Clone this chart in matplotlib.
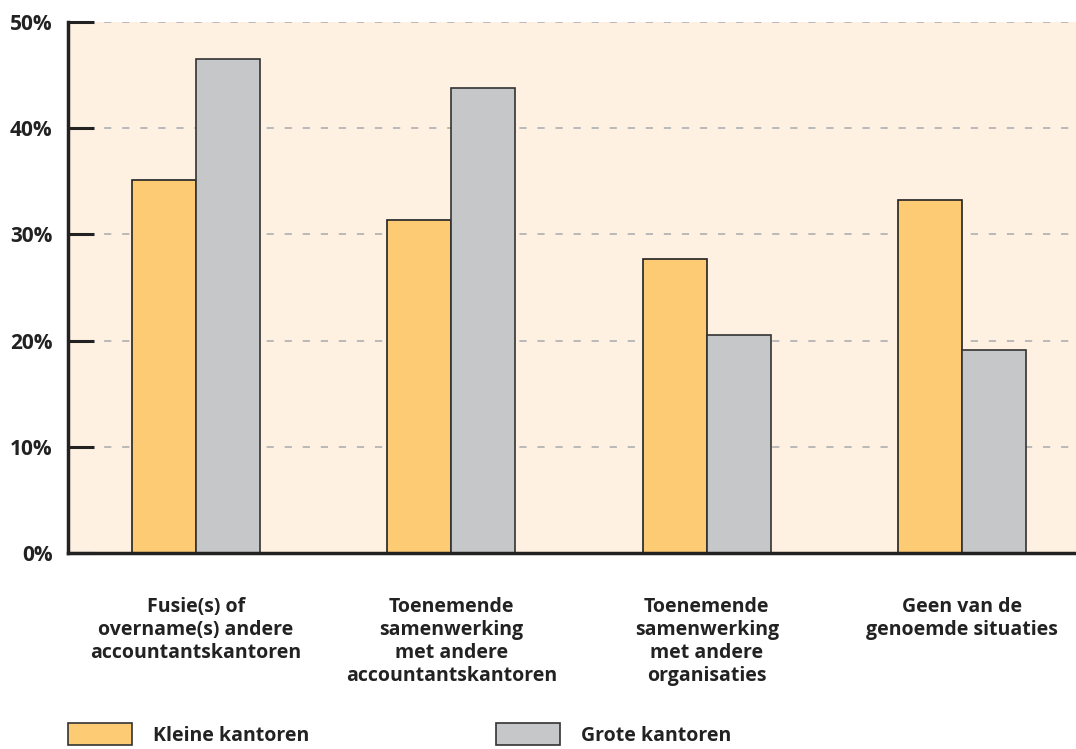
import numpy as np
import matplotlib
matplotlib.use("Agg")
import matplotlib.pyplot as plt
from matplotlib.patches import Rectangle

plt.rcParams['font.family'] = ['Liberation Sans Narrow', 'Open Sans', 'DejaVu Sans']

categories = ["Fusie(s) of\novername(s) andere\naccountantskantoren",
              "Toenemende\nsamenwerking\nmet andere\naccountantskantoren",
              "Toenemende\nsamenwerking\nmet andere\norganisaties",
              "Geen van de\ngenoemde situaties"]
kleine = [35.1, 31.4, 27.7, 33.2]
grote = [46.5, 43.8, 20.5, 19.1]
series_names = ["Kleine kantoren", "Grote kantoren"]
yticks = [0, 10, 20, 30, 40, 50]

c_kleine = "#FCCB73"
c_grote = "#C6C7C9"
bg = "#FEF1E2"

fig = plt.figure(figsize=(10.76, 7.49), dpi=100)
ax = fig.add_axes([68/1076, 1-553/749, 1008/1076, 531/749])
ax.set_facecolor(bg)

x = np.arange(len(categories))
w = 0.25
ax.bar(x - w/2, kleine, w, color=c_kleine, edgecolor="#222222", linewidth=1.2, zorder=3)
ax.bar(x + w/2, grote, w, color=c_grote, edgecolor="#333333", linewidth=1.2, zorder=3)

ax.set_xlim(-0.5, 3.445)
ax.set_ylim(0, 50)
ax.set_yticks(yticks)
ax.set_yticklabels([f"{t}%" for t in yticks], fontsize=15, fontweight="bold", color="#222222")
ax.tick_params(axis="y", direction="in", length=19, width=2.2, color="#222222", pad=11)
ax.set_xticks([])
ax.yaxis.grid(True, linestyle=(0, (4, 6)), color="#B5B5B5", linewidth=1.3, zorder=1)
for s in ["top", "right"]:
    ax.spines[s].set_visible(False)
for s in ["left", "bottom"]:
    ax.spines[s].set_linewidth(2.5)
    ax.spines[s].set_color("#222222")
    ax.spines[s].set_zorder(4)

for i, lab in enumerate(categories):
    ax.text(i, -4.1, lab, ha="center", va="top", fontsize=14, fontweight="bold",
            color="#222222", linespacing=1.22, transform=ax.transData)

# legend
for (px, name, col) in [(68, series_names[0], c_kleine), (496, series_names[1], c_grote)]:
    fig.patches.append(Rectangle((px/1076, 1-745/749), 64/1076, 22/749,
                                 transform=fig.transFigure, facecolor=col,
                                 edgecolor="#333333", linewidth=1.2))
    fig.text((px+85)/1076, 1-736/749, name, fontsize=14, fontweight="bold",
             color="#222222", va="center", ha="left")

fig.savefig("out.png", dpi=100)
